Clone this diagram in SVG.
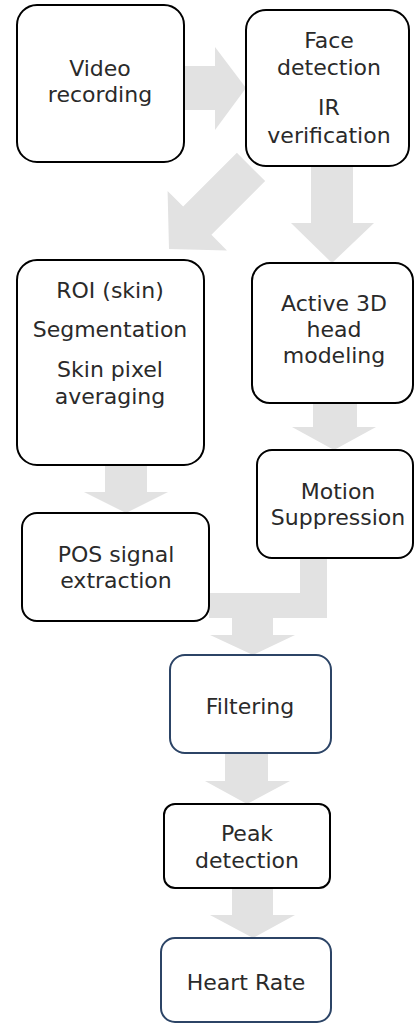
<svg xmlns="http://www.w3.org/2000/svg" width="414" height="1023" viewBox="0 0 414 1023">
  <style>
    .box { fill: #ffffff; stroke: #000000; stroke-width: 2; }
    .box.navy { stroke: #2c4466; }
    .lbl { font-family: "DejaVu Sans", "Noto Sans", sans-serif; font-size: 22px; fill: #2a2a2a; text-anchor: middle; }
    .flow { fill: #e2e2e2; stroke: none; }
  </style>
  <rect width="414" height="1023" fill="#ffffff"/>

  <!-- block arrows between the processing stages -->
  <g id="connectors">
    <!-- video -> face detection -->
    <polygon class="flow" points="184,66 215,66 215,47 246,88 215,130 215,110 184,110"/>
    <!-- face detection -> ROI (diagonal) -->
    <polygon class="flow" transform="translate(169,249) rotate(45)" points="-20,-116 20,-116 20,-40 42,-40 0,0 -42,-40 -20,-40"/>
    <!-- face detection -> head modeling -->
    <polygon class="flow" points="311,166 353,166 353,223 374,223 332,263 291,223 311,223"/>
    <!-- ROI -> POS -->
    <polygon class="flow" points="105,465 147,465 147,492 168,492 126,513 84,492 105,492"/>
    <!-- head modeling -> motion suppression -->
    <polygon class="flow" points="313,403 357,403 357,427 376,427 334,450 292,427 313,427"/>
    <!-- motion suppression joins POS output -->
    <polygon class="flow" points="300,558 327,558 327,618 209,618 209,593 300,593"/>
    <!-- merged signal -> filtering -->
    <polygon class="flow" points="232,617 273,617 273,635 295,635 253,655 210,635 232,635"/>
    <!-- filtering -> peak detection -->
    <polygon class="flow" points="225,753 268,753 268,781 290,781 247,804 205,781 225,781"/>
    <!-- peak detection -> heart rate -->
    <polygon class="flow" points="232,888 273,888 273,915 295,915 253,938 210,915 232,915"/>
  </g>

  <g id="video">
    <rect class="box" x="17" y="5" width="167" height="157" rx="20"/>
    <text class="lbl" x="100" y="76">Video</text>
    <text class="lbl" x="100" y="102">recording</text>
  </g>

  <g id="face">
    <rect class="box" x="246" y="10" width="163" height="156" rx="20"/>
    <text class="lbl" x="329" y="48">Face</text>
    <text class="lbl" x="329" y="75">detection</text>
    <text class="lbl" x="329" y="115">IR</text>
    <text class="lbl" x="329" y="143">verification</text>
  </g>

  <g id="roi">
    <rect class="box" x="17" y="260" width="187" height="205" rx="20"/>
    <text class="lbl" x="110" y="298">ROI (skin)</text>
    <text class="lbl" x="110" y="337">Segmentation</text>
    <text class="lbl" x="110" y="377">Skin pixel</text>
    <text class="lbl" x="110" y="404">averaging</text>
  </g>

  <g id="head">
    <rect class="box" x="252" y="263" width="161" height="140" rx="18"/>
    <text class="lbl" x="334" y="311">Active 3D</text>
    <text class="lbl" x="334" y="337">head</text>
    <text class="lbl" x="334" y="363">modeling</text>
  </g>

  <g id="motion">
    <rect class="box" x="257" y="450" width="156" height="108" rx="15"/>
    <text class="lbl" x="338" y="499">Motion</text>
    <text class="lbl" x="338" y="525">Suppression</text>
  </g>

  <g id="pos">
    <rect class="box" x="22" y="513" width="187" height="108" rx="15"/>
    <text class="lbl" x="116" y="562">POS signal</text>
    <text class="lbl" x="116" y="588">extraction</text>
  </g>

  <g id="filtering">
    <rect class="box navy" x="170" y="655" width="161" height="98" rx="15"/>
    <text class="lbl" x="250" y="714">Filtering</text>
  </g>

  <g id="peak">
    <rect class="box" x="164" y="804" width="166" height="84" rx="11"/>
    <text class="lbl" x="247" y="841">Peak</text>
    <text class="lbl" x="247" y="868">detection</text>
  </g>

  <g id="heartrate">
    <rect class="box navy" x="161" y="938" width="170" height="84" rx="14"/>
    <text class="lbl" x="246" y="990">Heart Rate</text>
  </g>
</svg>
